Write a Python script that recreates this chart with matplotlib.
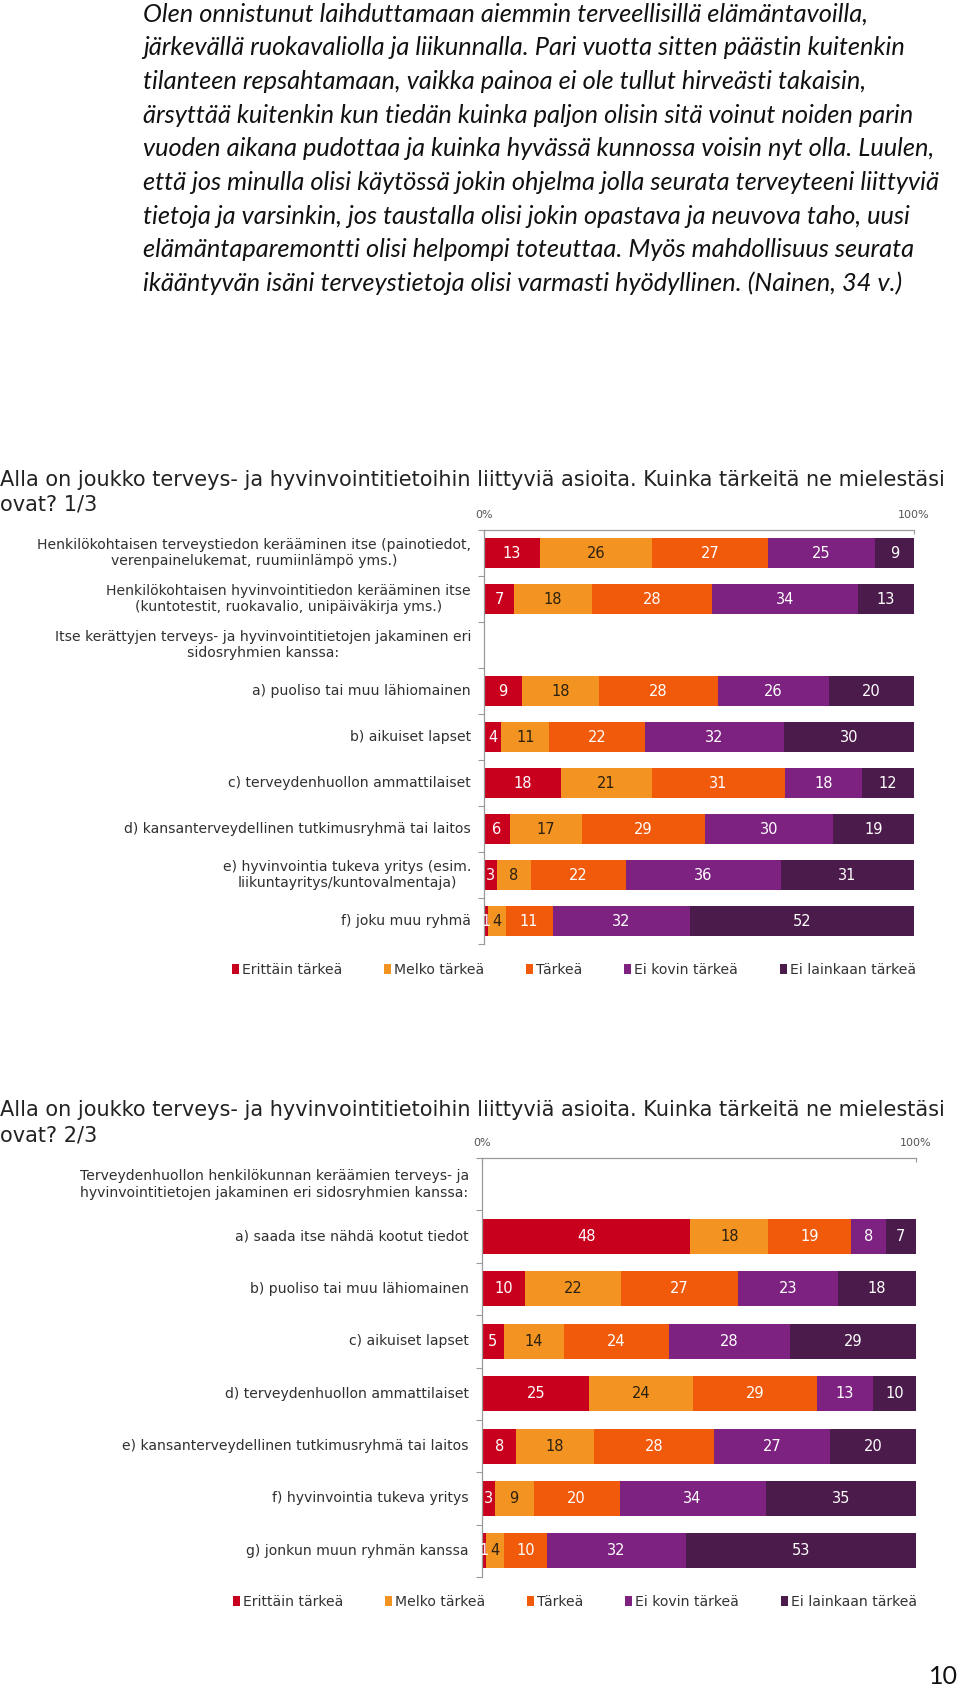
import matplotlib
matplotlib.use("Agg")
import matplotlib.pyplot as plt
import numpy as np

W, H = 960, 1694

quote_lines = [
    "Olen onnistunut laihduttamaan aiemmin terveellisillä elämäntavoilla,",
    "järkevällä ruokavaliolla ja liikunnalla. Pari vuotta sitten päästin kuitenkin",
    "tilanteen repsahtamaan, vaikka painoa ei ole tullut hirveästi takaisin,",
    "ärsyttää kuitenkin kun tiedän kuinka paljon olisin sitä voinut noiden parin",
    "vuoden aikana pudottaa ja kuinka hyvässä kunnossa voisin nyt olla. Luulen,",
    "että jos minulla olisi käytössä jokin ohjelma jolla seurata terveyteeni liittyviä",
    "tietoja ja varsinkin, jos taustalla olisi jokin opastava ja neuvova taho, uusi",
    "elämäntaparemontti olisi helpompi toteuttaa. Myös mahdollisuus seurata",
    "ikääntyvän isäni terveystietoja olisi varmasti hyödyllinen. (Nainen, 34 v.)",
]

title_line = "Alla on joukko terveys- ja hyvinvointitietoihin liittyviä asioita. Kuinka tärkeitä ne mielestäsi"
title1_tail = "ovat? 1/3"
title2_tail = "ovat? 2/3"

series_names = ["Erittäin tärkeä", "Melko tärkeä", "Tärkeä", "Ei kovin tärkeä", "Ei lainkaan tärkeä"]
colors = ["#C8001E", "#F39322", "#F05A0A", "#7D2281", "#4B1B4B"]
label_colors = ["white", "#2b2110", "white", "white", "white"]

axis_ticks = [0, 100]
axis_ticklabels = ["0%", "100%"]

chart1_categories = [
    "Henkilökohtaisen terveystiedon kerääminen itse (painotiedot,\nverenpainelukemat, ruumiinlämpö yms.)",
    "Henkilökohtaisen hyvinvointitiedon kerääminen itse\n(kuntotestit, ruokavalio, unipäiväkirja yms.)",
    "Itse kerättyjen terveys- ja hyvinvointitietojen jakaminen eri\nsidosryhmien kanssa:",
    "a) puoliso tai muu lähiomainen",
    "b) aikuiset lapset",
    "c) terveydenhuollon ammattilaiset",
    "d) kansanterveydellinen tutkimusryhmä tai laitos",
    "e) hyvinvointia tukeva yritys (esim.\nliikuntayritys/kuntovalmentaja)",
    "f) joku muu ryhmä",
]
chart1_erittain = [13, 7, None, 9, 4, 18, 6, 3, 1]
chart1_melko = [26, 18, None, 18, 11, 21, 17, 8, 4]
chart1_tarkea = [27, 28, None, 28, 22, 31, 29, 22, 11]
chart1_eikovin = [25, 34, None, 26, 32, 18, 30, 36, 32]
chart1_eilainkaan = [9, 13, None, 20, 30, 12, 19, 31, 52]

chart2_categories = [
    "Terveydenhuollon henkilökunnan keräämien terveys- ja\nhyvinvointitietojen jakaminen eri sidosryhmien kanssa:",
    "a) saada itse nähdä kootut tiedot",
    "b) puoliso tai muu lähiomainen",
    "c) aikuiset lapset",
    "d) terveydenhuollon ammattilaiset",
    "e) kansanterveydellinen tutkimusryhmä tai laitos",
    "f) hyvinvointia tukeva yritys",
    "g) jonkun muun ryhmän kanssa",
]
chart2_erittain = [None, 48, 10, 5, 25, 8, 3, 1]
chart2_melko = [None, 18, 22, 14, 24, 18, 9, 4]
chart2_tarkea = [None, 19, 27, 24, 29, 28, 20, 10]
chart2_eikovin = [None, 8, 23, 28, 13, 27, 34, 32]
chart2_eilainkaan = [None, 7, 18, 29, 10, 20, 35, 53]

page_number = "10"

fig = plt.figure(figsize=(W / 100, H / 100), dpi=100)
fig.patch.set_facecolor("white")


def px_axes(x0, y0, x1, y1):
    return fig.add_axes([x0 / W, 1 - y1 / H, (x1 - x0) / W, (y1 - y0) / H])


def fx(x):
    return x / W


def fy(y):
    return 1 - y / H


# quote text, one line per row as in the source
for i, line in enumerate(quote_lines):
    fig.text(fx(143), fy(14 + 33.7 * i), line,
             family=["Lato", "DejaVu Sans"], style="italic", fontsize=18.3,
             ha="left", va="center", color="#111111")


def draw_chart(ax, cats, series, bar_h, legend_y_px, legend_x_px):
    n = len(cats)
    data = np.array([[np.nan if v is None else v for v in s] for s in series], dtype=float)
    rows = np.array([i for i in range(n) if not np.isnan(data[0, i])])
    totals = np.nansum(data[:, rows], axis=0)
    left = np.zeros(len(rows))
    handles = []
    for k in range(len(series)):
        raw = data[k, rows]
        w = raw / totals * 100
        bc = ax.barh(rows, w, left=left, height=bar_h, color=colors[k],
                     label=series_names[k], linewidth=0)
        ax.bar_label(bc, labels=[f"{int(v)}" for v in raw], label_type="center",
                     color=label_colors[k], fontsize=10.5, family="DejaVu Sans")
        handles.append(bc)
        left = left + w
    ax.set_xlim(0, 100)
    ax.set_ylim(n - 0.5, -0.5)
    for i, c in enumerate(cats):
        ax.text(-3, i, c, ha="right", va="center", multialignment="center",
                fontsize=10.1, color="#303030", family="DejaVu Sans",
                linespacing=1.25)
    for s in ["right", "bottom"]:
        ax.spines[s].set_visible(False)
    for s in ["top", "left"]:
        ax.spines[s].set_color("#9a9a9a")
        ax.spines[s].set_linewidth(0.9)
    ax.xaxis.tick_top()
    ax.set_xticks(axis_ticks)
    ax.set_xticklabels(axis_ticklabels, fontsize=8, color="#555555")
    ax.tick_params(axis="x", direction="in", length=3, pad=7, color="#9a9a9a")
    ax.set_yticks(np.arange(-0.5, n, 1))
    ax.set_yticklabels([])
    ax.tick_params(axis="y", direction="out", length=4, color="#9a9a9a")
    ax.set_facecolor("none")
    fig.legend(handles=handles, labels=series_names, loc="center",
               bbox_to_anchor=(fx(legend_x_px), fy(legend_y_px)),
               ncol=5, frameon=False, handlelength=0.5, handleheight=0.65,
               handletextpad=0.2, columnspacing=3.0, fontsize=10.1,
               labelcolor="#333333")


def draw_title(y1, tail):
    fig.text(0.0, fy(y1), title_line, ha="left", va="center", fontsize=15,
             color="#222222", family="DejaVu Sans")
    fig.text(0.0, fy(y1 + 25), tail, ha="left", va="center", fontsize=15,
             color="#222222", family="DejaVu Sans")


# chart 1
draw_title(480, title1_tail)
ax1 = px_axes(484, 530, 914, 944)
draw_chart(ax1, chart1_categories,
           [chart1_erittain, chart1_melko, chart1_tarkea, chart1_eikovin, chart1_eilainkaan],
           0.65, 970, 574)

# chart 2
draw_title(1110, title2_tail)
ax2 = px_axes(482, 1158, 916, 1577)
draw_chart(ax2, chart2_categories,
           [chart2_erittain, chart2_melko, chart2_tarkea, chart2_eikovin, chart2_eilainkaan],
           0.67, 1602, 575)

fig.text(fx(958), fy(1676), page_number, ha="right", va="center", fontsize=18,
         family=["Lato", "DejaVu Sans"], color="#111111")

fig.savefig("out.png", dpi=100, facecolor="white")
